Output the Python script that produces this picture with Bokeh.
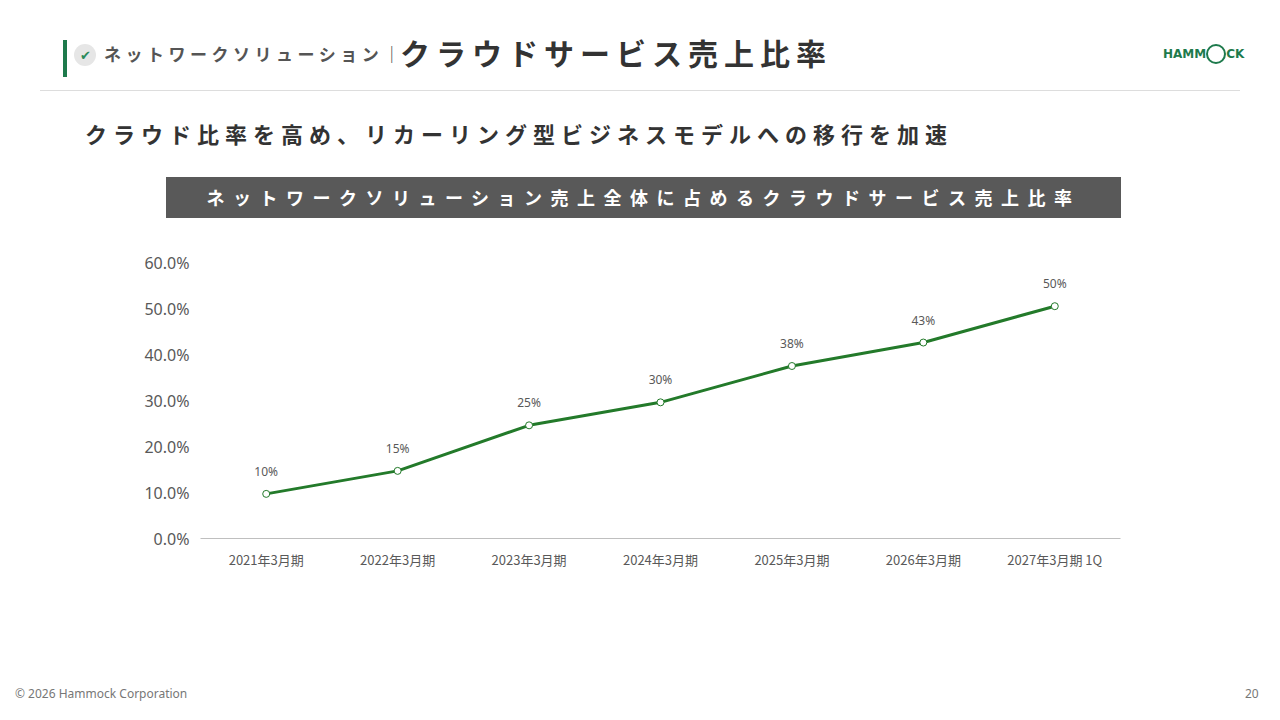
from bokeh.plotting import figure
from bokeh.models import Div, ColumnDataSource, FixedTicker, NumeralTickFormatter, LabelSet
from bokeh.layouts import column
from bokeh.core.properties import value
from bokeh.embed import file_html
from bokeh.resources import INLINE

categories = ["2021年3月期", "2022年3月期", "2023年3月期", "2024年3月期", "2025年3月期", "2026年3月期", "2027年3月期 1Q"]
ratios = [0.097, 0.147, 0.246, 0.296, 0.375, 0.426, 0.505]
ratio_labels = ["10%", "15%", "25%", "30%", "38%", "43%", "50%"]
y_ticks = [0, 0.1, 0.2, 0.3, 0.4, 0.5, 0.6]

F = "'Noto Sans CJK JP', sans-serif"
header = Div(width=1264, height=218, styles={"margin": "0", "padding": "0"}, text=f"""
<div style="position:relative;width:1264px;height:218px;font-family:{F};">
 <div style="position:absolute;left:63px;top:40px;width:4px;height:37px;background:#1e7a4c;"></div>
 <div style="position:absolute;left:74px;top:44px;width:22px;height:22px;border-radius:11px;background:#e6e6e6;color:#2a8a5a;font-size:13px;text-align:center;line-height:22px;">✔</div>
 <div style="position:absolute;left:104px;top:40px;font-size:17px;font-weight:bold;color:#555;letter-spacing:4.5px;line-height:28px;">ネットワークソリューション｜</div>
 <div style="position:absolute;left:400px;top:32px;font-size:30px;font-weight:bold;color:#333;letter-spacing:6px;line-height:40px;">クラウドサービス売上比率</div>
 <div style="position:absolute;left:1163px;top:44px;font-size:12px;font-weight:900;color:#1e7a4c;font-family:'DejaVu Sans';">HAMM<span style="display:inline-block;width:20px;height:20px;border:2px solid #1e7a4c;border-radius:12px;vertical-align:middle;box-sizing:border-box;"></span>CK</div>
 <div style="position:absolute;left:40px;top:90px;width:1200px;height:1px;background:#dddddd;"></div>
 <div style="position:absolute;left:85px;top:116px;font-size:22px;font-weight:bold;color:#333;letter-spacing:6px;line-height:34px;">クラウド比率を高め、リカーリング型ビジネスモデルへの移行を加速</div>
 <div style="position:absolute;left:166px;top:177px;width:955px;height:41px;background:#595959;color:white;font-size:18px;font-weight:bold;letter-spacing:8.5px;text-align:center;line-height:41px;">ネットワークソリューション売上全体に占めるクラウドサービス売上比率</div>
</div>""")

src = ColumnDataSource(dict(x=categories, y=ratios, t=ratio_labels))
p = figure(x_range=categories, y_range=(0, 0.6), width=1264, height=462,
           output_backend="svg", toolbar_location=None,
           min_border_left=200, min_border_right=144, min_border_top=44, min_border_bottom=142)
p.outline_line_color = None
p.grid.grid_line_color = None
p.line("x", "y", source=src, line_color="#237a2a", line_width=3)
p.scatter("x", "y", source=src, size=7, fill_color="white", line_color="#237a2a", line_width=1)
p.add_layout(LabelSet(x="x", y="y", text="t", source=src, y_offset=14, text_align="center",
                      text_font_size="12px", text_color="#595959", text_font=value("Noto Sans")))
p.yaxis.ticker = FixedTicker(ticks=y_ticks)
p.yaxis.formatter = NumeralTickFormatter(format="0.0%")
p.yaxis.axis_line_color = None
p.yaxis.major_tick_line_color = None
p.yaxis.minor_tick_line_color = None
p.yaxis.major_label_text_font_size = "16px"
p.yaxis.major_label_text_color = "#595959"
p.yaxis.major_label_text_font = "Noto Sans"
p.xaxis.axis_line_color = "#bfbfbf"
p.xaxis.major_tick_line_color = None
p.xaxis.major_label_text_font_size = "13px"
p.xaxis.major_label_text_color = "#595959"
p.xaxis.major_label_text_font = "Noto Sans CJK JP"
p.x_range.range_padding = 0

footer = Div(width=1264, height=20, text=f"""
<div style="position:relative;width:1264px;height:20px;font-family:'Noto Sans';font-size:12px;color:#777;">
 <div style="position:absolute;left:10px;top:0px;">© 2026 Hammock Corporation</div>
 <div style="position:absolute;left:1240px;top:0px;">20</div>
</div>""")

lay = column(header, p, footer, spacing=0)
open("out.html", "w").write(file_html(lay, INLINE))
